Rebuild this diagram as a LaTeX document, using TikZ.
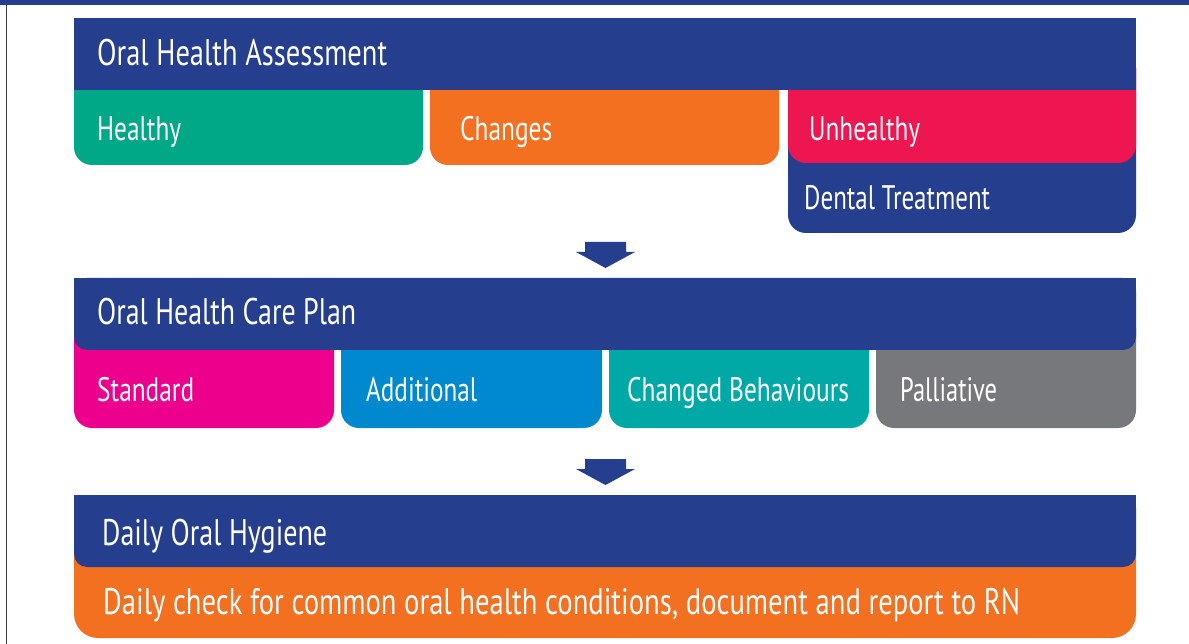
\documentclass[tikz,border=0pt]{standalone}
\usepackage{fontspec}
\setmainfont[FakeStretch=0.8]{PT Sans}
\usepackage{graphicx}
\definecolor{navy}{HTML}{263E8E}
\definecolor{hgreen}{HTML}{00A887}
\definecolor{horange}{HTML}{F37021}
\definecolor{hred}{HTML}{EE1651}
\definecolor{hmagenta}{HTML}{EC008C}
\definecolor{hblue}{HTML}{0089CF}
\definecolor{hteal}{HTML}{00A9A6}
\definecolor{hgray}{HTML}{77787B}
\definecolor{bordergray}{HTML}{3A3A3A}
\newcommand{\fitw}[2]{\resizebox{#1}{\height}{#2}}
\begin{document}
\begin{tikzpicture}[x=1pt,y=-1pt,
  lbl/.style={anchor=base west, inner sep=0pt, text=white},
  big/.style={lbl, font=\fontsize{37}{40}\selectfont},
  small/.style={lbl, font=\fontsize{34}{38}\selectfont},
  subbox/.style={rounded corners=18pt},
  hdr/.style={fill=navy, rounded corners=13pt},
  blockarrow/.style={fill=navy}]
\useasboundingbox (0,0) rectangle (1189,644);
\fill[white] (0,0) rectangle (1189,644);
\fill[navy] (0,0) rectangle (1189,5);
\draw[line width=1.5pt, bordergray] (6.5,5) -- (6.5,644);

% ---- Box 1 ----
\fill[hgreen, subbox] (74,50) rectangle (423,165);
\fill[horange, subbox] (430,50) rectangle (779,165);
\fill[navy, subbox] (788,50) rectangle (1136,233);
\fill[hred, subbox] (788,50) rectangle (1136,163);
\fill[navy] (74,18) rectangle (1136,90);
\node[big] (oha) at (97,66) {\fitw{290pt}{Oral Health Assessment}};
\node[small] (healthy) at (97,141) {\fitw{84pt}{Healthy}};
\node[small] (changes) at (460,141) {\fitw{92pt}{Changes}};
\node[small] (unhealthy) at (809,141) {\fitw{111pt}{Unhealthy}};
\node[small] (dental) at (804,210) {\fitw{186pt}{Dental Treatment}};

% arrow 1
\fill[blockarrow] (585,242) -- (626,242) -- (626,252) -- (635,252) -- (605.5,268) -- (576,252) -- (585,252) -- cycle;

% ---- Box 2 ----
\fill[hmagenta, subbox] (74,310) rectangle (334,428);
\fill[hblue, subbox] (341,310) rectangle (602,428);
\fill[hteal, subbox] (609,310) rectangle (869,428);
\fill[hgray, subbox] (876,310) rectangle (1136,428);
\fill[hdr] (74,278) rectangle (1136,350);
\fill[navy] (74,278) rectangle (1136,320);
\node[big] (ohcp) at (97,325) {\fitw{259pt}{Oral Health Care Plan}};
\node[small] (standard) at (97,401) {\fitw{97pt}{Standard}};
\node[small] (additional) at (366,401) {\fitw{111pt}{Additional}};
\node[small] (changed) at (627,401) {\fitw{222pt}{Changed Behaviours}};
\node[small] (palliative) at (900,401) {\fitw{97pt}{Palliative}};

% arrow 2
\fill[blockarrow] (585,459) -- (626,459) -- (626,469) -- (635,469) -- (605.5,485) -- (576,469) -- (585,469) -- cycle;

% ---- Box 3 ----
\fill[horange, rounded corners=24pt] (74,530) rectangle (1136,638);
\fill[hdr] (74,495) rectangle (1136,567);
\fill[navy] (74,495) rectangle (1136,540);
\node[big] (doh) at (102,545) {\fitw{225pt}{Daily Oral Hygiene}};
\node[big] (check) at (103,614) {\fitw{917pt}{Daily check for common oral health conditions, document and report to RN}};
\end{tikzpicture}
\end{document}
